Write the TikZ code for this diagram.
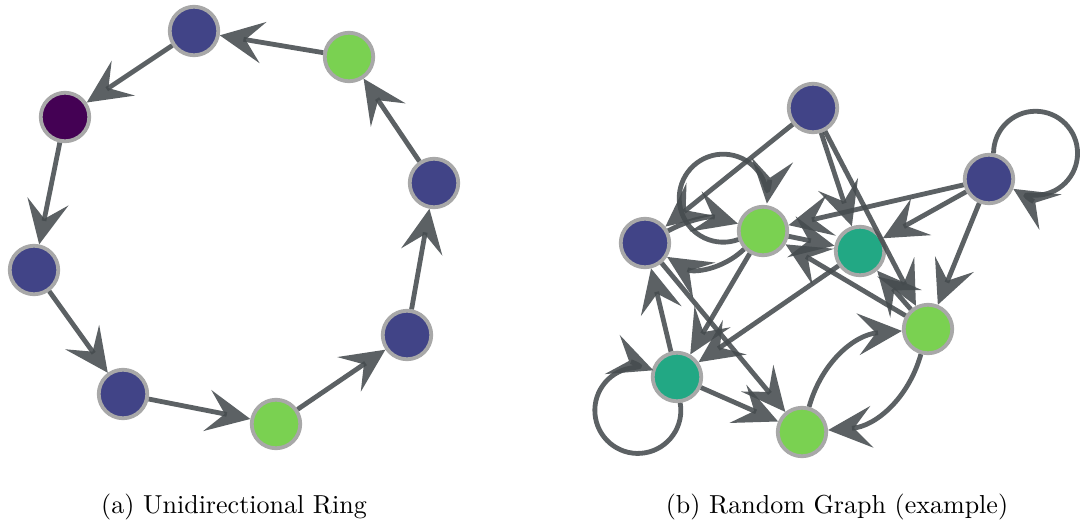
\documentclass[tikz,border=0pt]{standalone}
\usetikzlibrary{arrows.meta}

\definecolor{vblue}{HTML}{414487}
\definecolor{vgreen}{HTML}{7AD151}
\definecolor{vteal}{HTML}{22A884}
\definecolor{vpurple}{HTML}{440154}
\definecolor{rimgray}{HTML}{A8A8A8}
\definecolor{edgegray}{HTML}{454B4E}

% wide barbed arrow head with a notched back
\pgfdeclarearrow{
  name = Barb,
  parameters = {},
  setup code = {
    \pgfarrowssettipend{0pt}
    \pgfarrowssetlineend{-24pt}
    \pgfarrowssetvisualbackend{-26pt}
    \pgfarrowssetbackend{-44pt}
    \pgfarrowshullpoint{0pt}{0pt}
    \pgfarrowshullpoint{-44pt}{21pt}
    \pgfarrowshullpoint{-44pt}{-21pt}
  },
  drawing code = {
    \pgfpathmoveto{\pgfpoint{0pt}{0pt}}
    \pgfpathlineto{\pgfpoint{-44pt}{21pt}}
    \pgfpathlineto{\pgfpoint{-26pt}{0pt}}
    \pgfpathlineto{\pgfpoint{-44pt}{-21pt}}
    \pgfpathclose
    \pgfusepathqfill
  }
}

\begin{document}
\begin{tikzpicture}[x=1pt,y=1pt,
  vertex/.style={circle, draw=rimgray, line width=3.8pt, minimum size=48.5pt, inner sep=0pt},
  bluev/.style={vertex, fill=vblue},
  greenv/.style={vertex, fill=vgreen},
  tealv/.style={vertex, fill=vteal},
  purplev/.style={vertex, fill=vpurple},
  link/.style={draw=edgegray, line width=4.8pt, opacity=0.88, -{Barb}},
  caption/.style={scale=2.6, anchor=base, inner sep=0pt}]

\useasboundingbox (0,0) rectangle (1080,-523);

% ---- (a) unidirectional ring ----
\node[bluev]    (a1) at (194,-31)  {};
\node[greenv]   (a2) at (349,-57)  {};
\node[bluev]    (a3) at (434,-183) {};
\node[bluev]    (a4) at (407,-335) {};
\node[greenv]   (a5) at (276,-424) {};
\node[bluev]    (a6) at (123,-394) {};
\node[bluev]    (a7) at (34,-270)  {};
\node[purplev]  (a8) at (65,-117)  {};

\draw[link] (a2) -- (a1);
\draw[link] (a1) -- (a8);
\draw[link] (a8) -- (a7);
\draw[link] (a7) -- (a6);
\draw[link] (a6) -- (a5);
\draw[link] (a5) -- (a4);
\draw[link] (a4) -- (a3);
\draw[link] (a3) -- (a2);

\node[caption] (capa) at (234,-513) {(a) Unidirectional Ring};

% ---- (b) random graph ----
\node[bluev]  (b1) at (813,-108) {};
\node[bluev]  (b2) at (989,-179) {};
\node[bluev]  (b3) at (645,-243) {};
\node[greenv] (b4) at (763,-231) {};
\node[tealv]  (b5) at (860,-251) {};
\node[greenv] (b6) at (928,-329) {};
\node[tealv]  (b7) at (677,-377) {};
\node[greenv] (b8) at (802,-432) {};

\draw[link] (b1) -- (b3);
\draw[link] (b1) -- (b5);
\draw[link] (b1) -- (b6);
\draw[link] (b2) -- (b4);
\draw[link] (b2) -- (b5);
\draw[link] (b2) -- (b6);
\draw[link] (b4) -- (b5);
\draw[link] (b6) -- (b4);
\draw[link] (b6) -- (b5);
\draw[link] (b4) -- (b7);
\draw[link] (b5) -- (b7);
\draw[link] (b7) -- (b3);
\draw[link] (b3) -- (b8);
\draw[link] (b7) -- (b8);
\draw[link] (b3) to[bend left=22] (b4);
\draw[link] (b4) to[bend left=38] (b3);
\draw[link] (b8) to[bend left=35] (b6);
\draw[link] (b6) to[bend left=35] (b8);

% self-loops
\draw[link] (b2.80) arc[start angle=180, end angle=-122, radius=42];
\draw[link] (b4.199) arc[start angle=-70, end angle=-367, radius=44];
\draw[link] (b7.-83) arc[start angle=10, end angle=-291, radius=43];

\node[caption] (capb) at (837,-513) {(b) Random Graph (example)};

\end{tikzpicture}
\end{document}
